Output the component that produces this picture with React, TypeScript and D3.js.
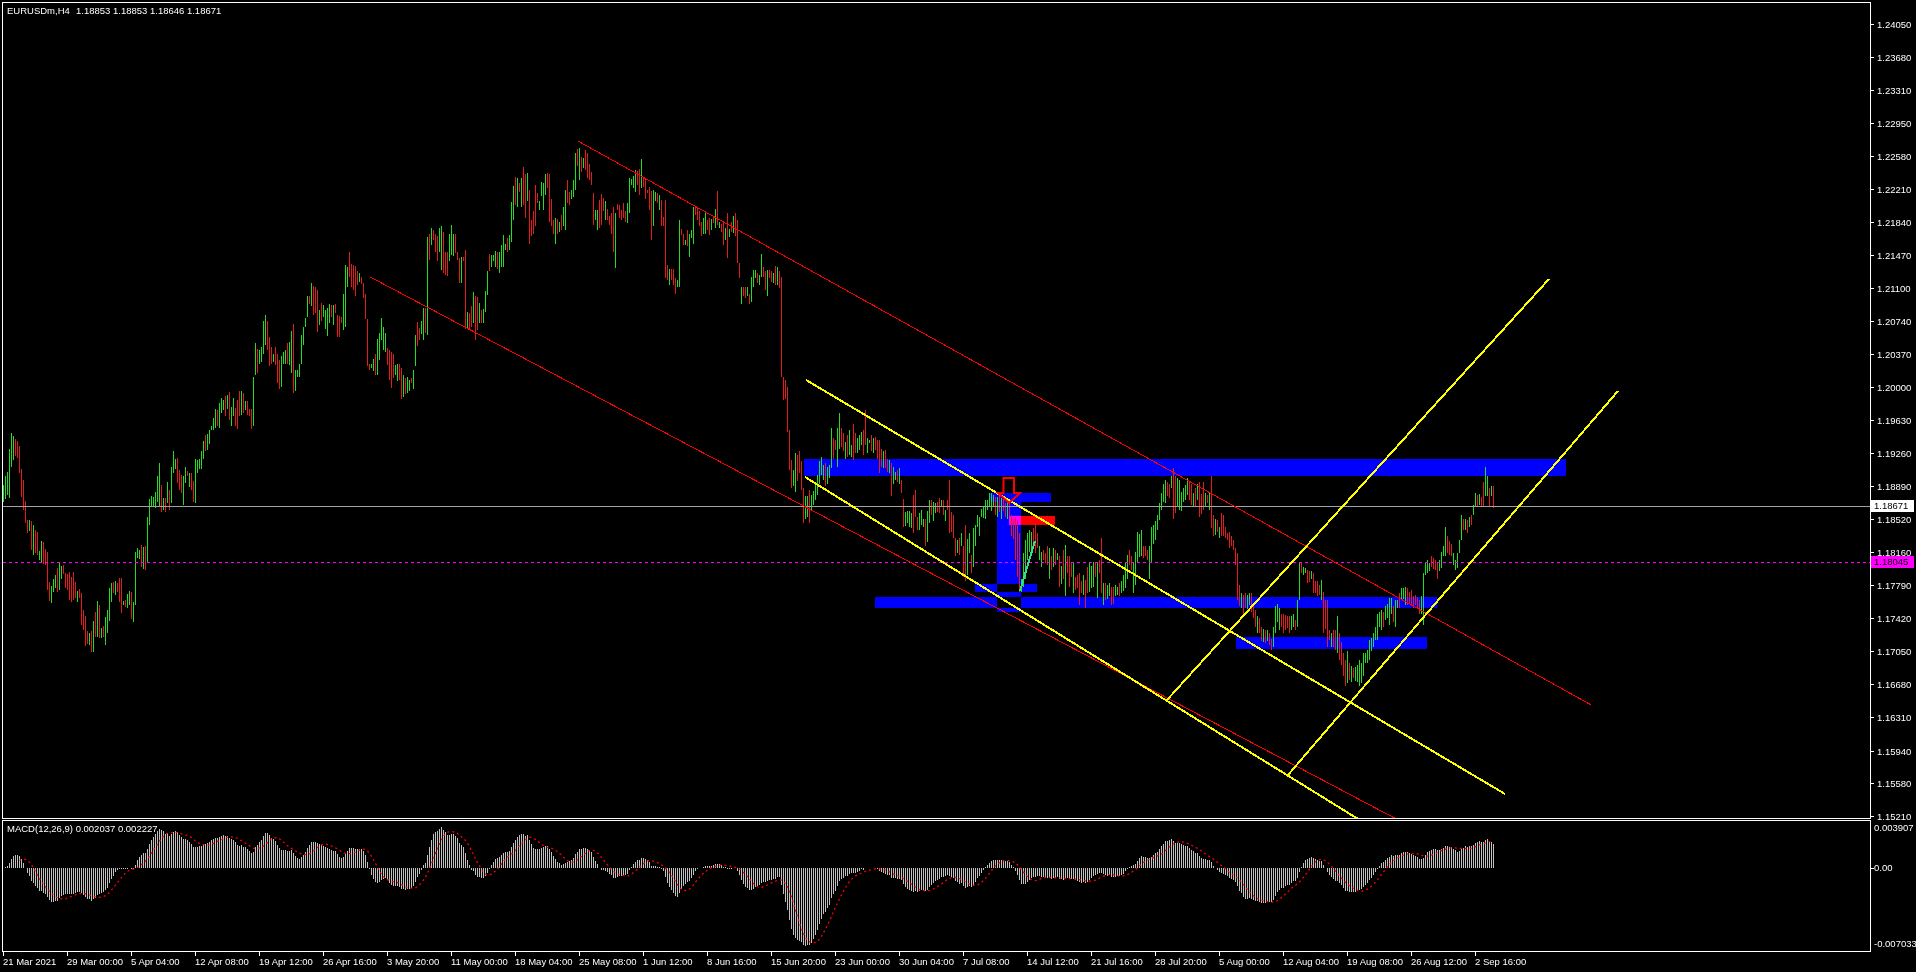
import React, { useEffect, useRef } from 'react';
import * as d3 from 'd3';

const symbolName = 'EURUSDm,H4';
const lastOhlc = ['1.18853', '1.18853', '1.18646', '1.18671'];
const bidPrice = 1.18671;
const alertLevel = 1.18045;
const macdCaption = 'MACD(12,26,9) 0.002037 0.002227';

const priceTicks = [
  1.2405, 1.2368, 1.2331, 1.2295, 1.2258, 1.2221, 1.2184, 1.2147, 1.211, 1.2074, 1.2037, 1.2,
  1.1963, 1.1926, 1.1889, 1.1852, 1.1816, 1.1779, 1.1742, 1.1705, 1.1668, 1.1631, 1.1594, 1.1558, 1.1521,
];
const macdTicks = [0.003907, 0, -0.007033];
const macdTickLabels = ['0.003907', '0.00', '-0.007033'];
const barsPerLabel = 32;
const timeLabels = [
  '21 Mar 2021', '29 Mar 00:00', '5 Apr 04:00', '12 Apr 08:00', '19 Apr 12:00', '26 Apr 16:00',
  '3 May 20:00', '11 May 00:00', '18 May 04:00', '25 May 08:00', '1 Jun 12:00', '8 Jun 16:00',
  '15 Jun 20:00', '23 Jun 00:00', '30 Jun 04:00', '7 Jul 08:00', '14 Jul 12:00', '21 Jul 16:00',
  '28 Jul 20:00', '5 Aug 00:00', '12 Aug 04:00', '19 Aug 08:00', '26 Aug 12:00', '2 Sep 16:00',
];

// H4 candles, "high:low" in pips above 1.15000, u = bull, d = bear
const candleRows = [
  '390:371u 400:375u 405:379u 431:376u 448:411u 445:418u 442:423d 440:421d 434:404d 408:377d 396:362d 373:348d 351:337d 351:339u 350:318d 346:312u 340:315d 338:312d 317:307u 328:303u 327:302d 319:301d 316:273d 282:261d 278:259u 286:271u 290:276u 298:271d 305:273u 300:285u 301:291d 292:276d',
  '291:273d 293:262d 288:260d 293:262d 282:264d 272:260u 274:264d 270:234d 251:229d 244:211d 227:213d 225:212u 227:204d 239:204u 249:221d 261:221u 257:220d 231:220u 233:221d 243:212u 251:225u 276:239u 281:260u 282:270d 283:268u 281:271d 287:260d 287:248d 261:256u 262:254d 269:253u 272:257u',
  '271:241d 260:238u 316:256u 320:309u 318:308u 323:299d 321:297u 322:296d 355:304u 375:346u 378:366u 377:366u 383:365u 400:372u 415:366u 391:360d 376:362u 376:360d 394:370u 385:362d 411:370u 428:404u 420:408u 421:393d 407:385d 402:382d 400:368u 411:393u 406:400d 404:388u 404:385d 395:372d 420:370u 418:404u 420:408u',
  '428:408u 440:420u 446:428d 447:430u 452:436u',
  '456:452u 465:452u 475:454u 474:456d 482:454u 488:471u 485:474u 490:468d 491:475u 494:463d 478:456u 487:467u 476:456d 485:453d 495:468d 495:469u 493:471d 484:474u 484:469d 475:467d 475:453d 511:456u 549:513u 542:516d 541:526u 545:528u 574:537u 580:547u 573:541d 556:523d 545:526d 537:528u',
  '545:524d 537:504d 530:498d 534:500u 539:526u 541:526u 549:526d 550:524u 562:515u 570:493d 519:495u 519:511u 526:511u 558:525u 567:547u 577:567u 601:578u 601:593d 616:590u 613:580d 611:582d 608:561d 586:569u 594:573d 591:578u 586:565u 588:557u 593:571u 591:578d 591:569u 593:582d 580:556d',
  '579:556d 578:571d 604:563u 636:567u 634:612u 651:623d 637:612d 636:608d 635:601d 629:614d 627:617u 623:615d 616:599d 604:576d 576:523d 526:519d 526:521u 531:518u 537:513d 553:513u 560:530u 577:552u 567:541u 560:539u 543:524d 541:508d 539:499d 537:510d 524:513u 526:507u 526:508d 521:486d',
  '513:489u 510:492d 511:493u 508:495u 510:504d 519:498u 558:523u 572:546d 566:552d 573:559u 588:552u 588:560d 667:558u 671:642d 677:658u 675:664d 671:651d 668:640d 677:651u 679:630u 673:627d 651:625d 650:624d 671:640u 681:647u 671:646u 671:649d 650:642d 644:616d 645:616u 645:640d 653:565d',
  '584:565u 582:565d 590:567d 606:571u 601:552d 600:564d 594:571u 586:571d 587:571u 607:584u 629:603u 648:629d 647:634u 647:640u 652:634u 651:632d 651:627u 658:634u 670:634u 660:653u 666:651d 669:653u 706:662u 724:686u 734:703d 733:701u 728:717d 733:701u 745:703d 738:689d 739:707u 720:660d',
  '686:668d 696:671d 725:679d 716:705d 707:697u 729:713u 727:697u 738:714u 739:722d 738:684d 710:679d 686:671d 688:660u 687:671d 684:673u 692:675d 701:679u 720:675u 731:705d 718:703d 720:710u 731:712u 761:720u 766:746d 767:731u 757:740d 755:744u 764:742d 761:733d 749:731d 740:725d 716:681d',
  '697:686u 697:675u 709:677d 715:681d 711:696d 707:686u 699:686d 691:681d 694:671d 701:651d 694:633u 704:697d 703:688d 697:686d 705:688d 696:684d 705:683u 733:694u 732:725u 735:722u 742:718u 741:725d 743:714d 754:722u 734:723d 733:710d 720:716d 723:697d 719:664d 720:679u 718:707u 716:705d',
  '714:697u 709:679d 690:679d 709:621d 636:619d 632:614u 631:619d 632:614d 621:604d 619:612u 686:612u 676:670d 671:658d 664:658u 675:657d 671:645u 675:666u 701:660u 702:692d 701:686d 696:679d 684:668d 688:671u 694:671u 686:675d 688:670d 687:675u 691:683d 699:677u 719:681d 684:677u 682:673d',
  '684:658d 677:664u 694:644d 676:667u 684:673d 691:672u 694:668d 686:638d 638:621d 612:593u 612:601d 612:599d 612:601u 604:593d 623:595u 630:612u 630:621u 627:616d 625:614u 648:623u 634:623d 629:608d 630:601u 630:621d 629:617d 627:616u 635:614d 634:614u 629:610d 623:511d 511:485d 508:486d',
  '500:450d 452:407d 418:387d 407:389u 426:383u 424:395d 428:404d 417:385d 387:348d 378:353u 378:355u 385:348d 379:363u 384:368u 394:374u 402:379u 417:392u 422:402u 413:396u 415:389d 410:392u 413:398u 454:409u 443:420d 441:430d 454:411u 471:431u 454:433d 448:428d 439:420u 446:422d 452:424u',
  '435:422u 459:418d 448:426d 443:426u 446:430u 450:435u 452:424d 474:435d 443:426u 441:437u 446:428d 443:426u 444:430d 441:420d 441:404d 431:411d 428:409u 430:409d 420:405d 418:404u 415:378d 411:392u 405:396u 407:394d 409:392u 396:381d 375:344d 360:345u 361:348u 361:344u 359:342u 379:337d',
  '385:355d 355:340d 359:340u 362:346u 353:344u 353:322d 361:327u 374:348u 374:357d 372:350u 370:359u 371:360d 376:359d 374:366u 374:357d 363:350u 374:363d 396:337d 360:338d 357:331d 331:311d 329:314u 331:312d 337:322u 322:288d 346:283d 330:290u 337:314u 312:292d 342:299u 346:322u 357:344u',
  '355:333u 364:355u 366:354u 374:353u 374:363u 381:366u 381:361u 379:366u 377:357d 377:355u 378:360d 376:353u 376:361d 370:355d 374:353u 374:355d 357:333d 352:330d 355:307d 351:288d 337:271d 286:271u 314:277u 329:286u 337:307u 340:316u 338:314u 342:325d 348:314d 337:320d 322:307u 316:299u',
  '318:307d 315:303d 322:301d 320:285u 311:296d 320:299u 318:301d 314:307u 311:277d 300:280u 318:285d 324:266u 311:292d 311:277d 303:288d 303:270u 288:273d 290:275d 292:257d 283:270d 290:268u 284:253d 299:270d 303:271u 300:275u 305:277u 303:288d 303:264u 307:292d 331:270d 281:257u 281:262d',
  '279:263u 281:266u 277:257d 277:258d 279:266u 277:268u 281:266d 283:270u 290:272u 303:275u 312:285u 318:301d 311:296d 303:270u 316:279u 338:303u 336:310u 340:311u 322:309d 322:311d 318:307d 322:285u 344:303u 346:325u 350:329u 357:340u 370:351u 381:363u 392:372u 396:370u 394:378d 392:376d',
  '400:387u 409:353d 400:359d 398:366u 396:363u 383:361u 387:372u 390:374u 398:379u 394:374d 392:368d 381:366u 387:366d 392:374u 394:355d 380:358d 394:363d 381:366u 379:370d 383:363u 400:342d 357:333d 352:335u 351:338d 344:331u 359:333d 357:333d 344:331d 337:329d 338:320d 334:322d 329:318d',
  '320:301d 314:262d 279:255d 270:253u 268:244d 270:253d 268:252u 270:257u 270:249d 257:242d 251:232d 244:225u 242:225d 232:216d 230:215u 229:214d 229:216u 225:212d 219:206d 232:210u 255:225u 258:238u 253:229u 247:232d 247:225d 245:229d 244:231d 244:225d 244:229u 246:232u 240:229d 262:232u',
  '303:262u 303:292d 299:290u 298:292u 296:281d 294:282d 294:286u 292:270d 283:270d 283:266d 279:268d 284:262u 271:225d 262:230d 262:210d 229:218d 225:210u 229:210d 229:206d 244:203u 225:195d 215:190d 203:177d 195:166d 205:169u 192:173d 188:171u 186:175d 187:172u 190:171u 195:166u 192:169u',
  '203:177u 203:192u 206:192u 218:195u 220:205u 225:210u 232:218u 247:218u 249:232u 251:229u 249:232d 255:240u 258:242u 264:234u 264:247u 255:238d 262:232u 262:253u 270:253d 275:262u 276:263u 277:257u 275:257d 271:258d 273:257d 266:253d 268:257d 265:252d 262:247d 266:247u 292:234u 303:290u',
  '307:292u 303:294u 311:299d 309:297d 307:296d 305:285d 307:294u 316:298u 322:311u 344:311u 333:314d 328:312d 325:311d 314:301u 307:296u 314:298u 329:314u 357:329u 353:340d 352:340u 351:337d 355:344u 357:346d 368:357u 381:366u 379:366d 380:368u 377:366d 394:366d 411:378u 400:378u 387:366d 389:378u 389:365d',
];

// drawn objects, as [bar, price, bar, price] or [bar1, bar2, priceTop, priceBottom]
const redTrendLines = [
  [287.5, 1.22744, 794, 1.1645],
  [183.25, 1.2123, 698.5, 1.15155],
];
const yellowTrendLines = [
  [401.5, 1.20077, 751, 1.15456],
  [401, 1.18994, 698.5, 1.14887],
  [582, 1.16505, 773, 1.21204],
  [642.5, 1.15668, 807.5, 1.19954],
];
const greenTrendLines = [[508.5, 1.17722, 516, 1.1828]];
const blueZones = [
  [400.5, 781.5, 1.19195, 1.19005],
  [436, 717, 1.17655, 1.17532],
  [616.5, 712, 1.17209, 1.17075],
  [493, 524, 1.18816, 1.18715],
  [497, 509, 1.18715, 1.17488],
  [486, 517, 1.178, 1.17711],
];
const redZones = [[503, 526, 1.18559, 1.18459]];
const sellArrows = [[503, 1.18983]];

const FONT = "'Liberation Sans', Arial, sans-serif";

const App: React.FC = () => {
  const ref = useRef<SVGSVGElement | null>(null);

  useEffect(() => {
    document.body.style.margin = '0';
    document.body.style.background = '#000';

    const bars = candleRows.join(' ').trim().split(/\s+/).map(tok => {
      const m = tok.match(/^(\d+):(\d+)([ud])$/)!;
      return { hi: 1.15 + +m[1] / 1e4, lo: 1.15 + +m[2] / 1e4, up: m[3] === 'u' };
    });

    const svg = d3.select(ref.current);
    svg.selectAll('*').remove();

    // bar index -> left pixel of the bar
    const xBar = d3.scaleLinear().domain([0, 1]).range([3, 5]);
    const yPrice = d3.scaleLinear().domain([1.1521, 1.2405]).range([816, 24]);
    const yMacd = d3.scaleLinear().domain([-0.007033, 0.003907]).range([950, 822]);

    const defs = svg.append('defs');
    defs.append('clipPath').attr('id', 'mainClip').append('rect')
      .attr('x', 3).attr('y', 3).attr('width', 1867).attr('height', 815);
    defs.append('clipPath').attr('id', 'macdClip').append('rect')
      .attr('x', 3).attr('y', 821).attr('width', 1867).attr('height', 130);

    const main = svg.append('g').attr('clip-path', 'url(#mainClip)');

    // rectangles (overlaps cancel out like MT4's xor fill)
    const zones = main.append('g').style('isolation', 'isolate');
    const addZones = (list: number[][], color: string) => {
      list.forEach(([t1, t2, p1, p2]) => {
        zones.append('rect')
          .attr('x', xBar(t1)).attr('y', yPrice(p1))
          .attr('width', xBar(t2) - xBar(t1)).attr('height', yPrice(p2) - yPrice(p1))
          .attr('fill', color)
          .style('mix-blend-mode', 'difference');
      });
    };
    addZones(blueZones, '#0000ff');
    addZones(redZones, '#ff0000');

    // candles
    main.append('g').attr('shape-rendering', 'crispEdges')
      .selectAll('line')
      .data(bars)
      .join('line')
      .attr('x1', (_d, i) => xBar(i) + 0.5)
      .attr('x2', (_d, i) => xBar(i) + 0.5)
      .attr('y1', d => yPrice(d.hi))
      .attr('y2', d => Math.max(yPrice(d.lo), yPrice(d.hi) + 1))
      .attr('stroke', d => (d.up ? '#22dd22' : '#e31b1b'))
      .attr('stroke-width', 1);

    // bid and alert levels
    main.append('line')
      .attr('x1', 3).attr('x2', 1870)
      .attr('y1', Math.round(yPrice(bidPrice)) + 0.5).attr('y2', Math.round(yPrice(bidPrice)) + 0.5)
      .attr('stroke', '#a0a4a8').attr('stroke-width', 1);
    main.append('line')
      .attr('x1', 3).attr('x2', 1870)
      .attr('y1', Math.round(yPrice(alertLevel)) + 0.5).attr('y2', Math.round(yPrice(alertLevel)) + 0.5)
      .attr('stroke', '#ff00ff').attr('stroke-width', 1).attr('stroke-dasharray', '3,3');

    const drawLines = (list: number[][], color: string, width: number) => {
      list.forEach(([t1, p1, t2, p2]) => {
        main.append('line')
          .attr('x1', xBar(t1)).attr('y1', yPrice(p1))
          .attr('x2', xBar(t2)).attr('y2', yPrice(p2))
          .attr('stroke', color).attr('stroke-width', width)
          .attr('shape-rendering', 'crispEdges');
      });
    };
    drawLines(redTrendLines, '#ff0000', 1);
    drawLines(yellowTrendLines, '#ffff00', 2);
    drawLines(greenTrendLines, '#2de38a', 2);

    sellArrows.forEach(([t, p]) => {
      const cx = xBar(t);
      const top = yPrice(p);
      const pts: [number, number][] = [
        [-5.5, 0], [5, 0], [5, 15], [11, 15], [0, 25], [-11, 15], [-5.5, 15],
      ];
      main.append('path')
        .attr('d', d3.line()(pts.map(([dx, dy]) => [cx + dx, top + dy])) + 'Z')
        .attr('fill', 'none').attr('stroke', '#ff0000').attr('stroke-width', 2);
    });

    // MACD(12,26,9)
    const closes = bars.map(b => (b.up ? b.lo + 0.75 * (b.hi - b.lo) : b.lo + 0.25 * (b.hi - b.lo)));
    const ema = (src: number[], n: number) => {
      const k = 2 / (n + 1);
      const out: number[] = [];
      src.forEach((v, i) => out.push(i ? out[i - 1] + k * (v - out[i - 1]) : v));
      return out;
    };
    const e12 = ema(closes, 12);
    const e26 = ema(closes, 26);
    const macd = e12.map((v, i) => v - e26[i]);
    const signal = macd.map((_v, i) => (i < 8 ? null : d3.mean(macd.slice(i - 8, i + 1)) as number));

    const macdG = svg.append('g').attr('clip-path', 'url(#macdClip)');
    macdG.append('g').attr('shape-rendering', 'crispEdges')
      .selectAll('line')
      .data(macd)
      .join('line')
      .attr('x1', (_d, i) => xBar(i) + 0.5)
      .attr('x2', (_d, i) => xBar(i) + 0.5)
      .attr('y1', yMacd(0))
      .attr('y2', d => yMacd(d))
      .attr('stroke', '#c0c0c0').attr('stroke-width', 1);
    const sigLine = d3.line<number | null>()
      .defined(d => d !== null)
      .x((_d, i) => xBar(i) + 0.5)
      .y(d => yMacd(d as number));
    macdG.append('path')
      .attr('d', sigLine(signal))
      .attr('fill', 'none').attr('stroke', '#ff0000')
      .attr('stroke-width', 1.3).attr('stroke-dasharray', '2,3');

    // frames
    svg.append('rect').attr('x', 2.5).attr('y', 2.5).attr('width', 1868).attr('height', 816)
      .attr('fill', 'none').attr('stroke', '#fff');
    svg.append('rect').attr('x', 2.5).attr('y', 820.5).attr('width', 1868).attr('height', 131)
      .attr('fill', 'none').attr('stroke', '#fff');

    const text = (x: number, y: number, s: string, fill = '#fff') =>
      svg.append('text').attr('x', x).attr('y', y).attr('dy', '0.35em')
        .attr('font-family', FONT).attr('font-size', 9.5).attr('fill', fill).text(s);

    // price axis
    priceTicks.forEach(p => {
      const y = Math.round(yPrice(p)) + 0.5;
      svg.append('line').attr('x1', 1870.5).attr('x2', 1874).attr('y1', y).attr('y2', y).attr('stroke', '#fff');
      text(1877, y, p.toFixed(5));
    });

    const tagBox = (p: number, bg: string) => {
      const y = Math.round(yPrice(p));
      svg.append('rect').attr('x', 1871).attr('y', y - 6).attr('width', 43).attr('height', 12).attr('fill', bg);
      text(1874, y, p.toFixed(5), '#000');
    };
    tagBox(bidPrice, '#ffffff');
    tagBox(alertLevel, '#ff00ff');

    // MACD axis
    macdTicks.forEach((v, i) => {
      const y = Math.min(944, Math.max(828, yMacd(v)));
      if (v === 0) {
        svg.append('line').attr('x1', 1870.5).attr('x2', 1874)
          .attr('y1', Math.round(y) + 0.5).attr('y2', Math.round(y) + 0.5).attr('stroke', '#fff');
      }
      text(1874, y, macdTickLabels[i]);
    });

    // time axis
    timeLabels.forEach((s, k) => {
      const x = xBar(k * barsPerLabel) + 0.5;
      svg.append('line').attr('x1', x).attr('x2', x).attr('y1', 951.5).attr('y2', 956).attr('stroke', '#fff');
      text(Math.max(2, x - 0.5), 962, s);
    });

    // captions
    text(7, 11, symbolName);
    text(76, 11, lastOhlc.join(' '));
    text(7, 829, macdCaption);
  }, []);

  return <svg ref={ref} width={1916} height={972} style={{ display: 'block', background: '#000' }} />;
};

export default App;
